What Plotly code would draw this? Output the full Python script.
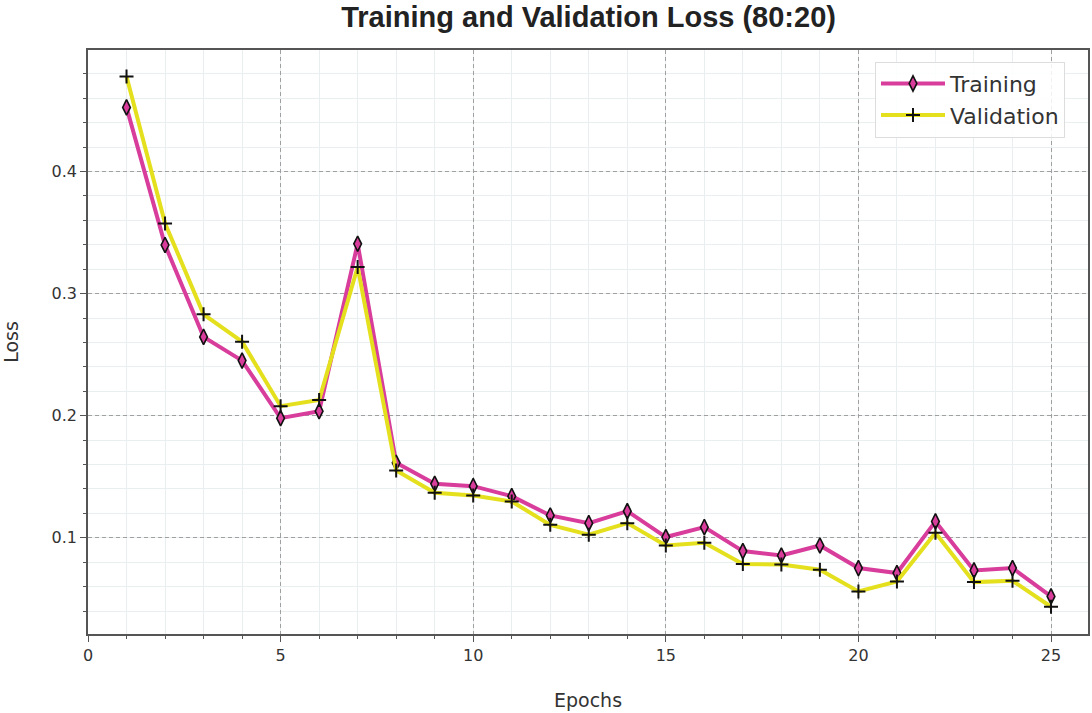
import plotly.graph_objects as go

epochs = list(range(1, 26))
training_loss = [0.4525, 0.3398, 0.2645, 0.2451, 0.1980, 0.2037, 0.3408, 0.1614, 0.1442, 0.1423,
                 0.1341, 0.1183, 0.1120, 0.1218, 0.1006, 0.1087, 0.0891, 0.0855, 0.0937, 0.0752,
                 0.0711, 0.1134, 0.0733, 0.0752, 0.0520]
validation_loss = [0.4778, 0.3575, 0.2830, 0.2606, 0.2078, 0.2129, 0.3218, 0.1551, 0.1368, 0.1346,
                   0.1297, 0.1106, 0.1025, 0.1120, 0.0937, 0.0959, 0.0785, 0.0782, 0.0738, 0.0561,
                   0.0643, 0.1041, 0.0637, 0.0648, 0.0435]
x_ticks = [0, 5, 10, 15, 20, 25]
y_ticks = [0.1, 0.2, 0.3, 0.4]

MAGENTA = "#d83d9b"
YELLOW = "#e4e01e"

fig = go.Figure()
fig.add_trace(go.Scatter(
    x=epochs, y=training_loss, mode="lines+markers", name="Training",
    line=dict(color=MAGENTA, width=4),
    marker=dict(symbol="diamond-tall", size=11, color=MAGENTA,
                line=dict(color="#111111", width=1.6)),
))
fig.add_trace(go.Scatter(
    x=epochs, y=validation_loss, mode="lines+markers", name="Validation",
    line=dict(color=YELLOW, width=4),
    marker=dict(symbol="cross-thin", size=10, color="#111111",
                line=dict(color="#111111", width=2)),
))

axis_common = dict(
    showline=True, linecolor="#555555", linewidth=1.5, mirror=True,
    ticks="outside", ticklen=6, tickcolor="#555555", tickwidth=1.2,
    tickfont=dict(family="DejaVu Sans", size=16, color="#333333"),
    showgrid=True, gridcolor="#a0a0a0", griddash="4px,3px", gridwidth=1,
    zeroline=False,
)

fig.update_xaxes(
    **axis_common,
    range=[0, 25.96], tickvals=x_ticks,
    minor=dict(dtick=1, tick0=0, ticks="outside", ticklen=3, tickcolor="#555555",
               showgrid=True, gridcolor="#e9eef0", gridwidth=1, griddash="solid"),
    title=dict(text="Epochs", font=dict(family="DejaVu Sans", size=19, color="#333333"),
               standoff=30),
)
fig.update_yaxes(
    **axis_common,
    range=[0.0212, 0.4995], tickvals=y_ticks, ticktext=[str(v) for v in y_ticks],
    minor=dict(dtick=0.02, tick0=0, ticks="outside", ticklen=3, tickcolor="#555555",
               showgrid=True, gridcolor="#e9eef0", gridwidth=1, griddash="solid"),
    title=dict(text="Loss", font=dict(family="DejaVu Sans", size=19, color="#333333"),
               standoff=28),
)

fig.update_layout(
    width=1092, height=713,
    margin=dict(l=88, r=2, t=50, b=79),
    paper_bgcolor="white", plot_bgcolor="white",
    title=dict(text="<b>Training and Validation Loss (80:20)</b>", x=0.539, xanchor="center",
               y=0.99, yanchor="top",
               font=dict(family="Liberation Sans", size=29, color="#222222")),
    legend=dict(x=0.787, y=0.98, xanchor="left", yanchor="top",
                bgcolor="rgba(255,255,255,0.85)", bordercolor="#dddddd", borderwidth=1,
                font=dict(family="DejaVu Sans", size=22, color="#333333"),
                itemwidth=64, tracegroupgap=6),
    showlegend=True,
)

fig.write_html("out.html")
